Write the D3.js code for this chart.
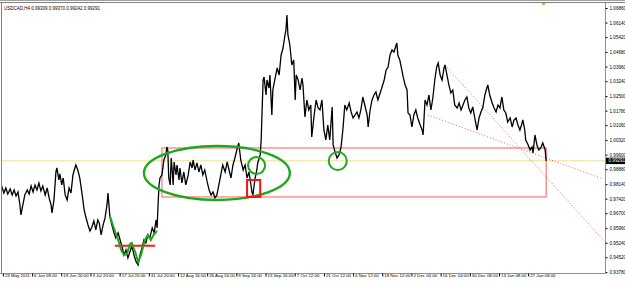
<!DOCTYPE html>
<html><head><meta charset="utf-8">
<script src="https://cdn.jsdelivr.net/npm/d3@7/dist/d3.min.js"></script>
<style>
body{margin:0;background:#fff}
svg{display:block}
text{font-family:"Liberation Sans",Arial,sans-serif}
</style>
</head><body>
<svg id="c" width="625" height="283"></svg>
<script>
// ---- data (H4 bars, index counted from the first bar on screen) ----
const barIdx = [0,4,8,12,16,21,25,29,33,37,41,43,47,51,56,60,64,68,72,76,80,84,88,93,97,101,105,107,111,115,117,121,123,127,130,134,138,142,146,150,154,156,160,164,169,173,177,181,185,189,193,197,201,204,208,212,216,220,222,224,226,230,234,238,243,247,251,255,259,263,267,271,276,280,284,288,292,296,300,304,308,313,317,321,323,325,327,329,333,337,341,343,345,347,350,352,354,356,358,362,364,368,370,374,378,382,387,391,395,397,401,405,409,413,417,421,426,430,434,438,442,446,450,454,458,463,467,471,475,479,483,487,491,495,500,504,508,512,516,518,520,524,528,530,535,537,539,541,543,547,549,553,555,559,561,565,570,574,578,582,586,588,590,592,594,596,598,600,604,607,609,613,617,621,623,627,631,635,639,641,646,650,654,658,662,666,670,674,678,683,685,689,693,697,701,705,709,713,718,722,726,730,734,738,742,746,750,755,757,761,765,769,773,777,781,785,790,794,798,802,806,810,814,816,818,822,827,829,833,837,839,843,847,851,855,859,864,868,870,874,878,882,886,890,894,898,901,905,909,913,915,919,923,927,931,935,940,944,948,952,956,960,964,968,972,977,981,985,989,993,997,1001,1003,1007,1012,1016,1020,1024,1028,1032,1036,1040,1044,1049,1053,1057,1061,1065,1069,1073,1075,1079,1081,1086,1090,1094,1096,1100,1104,1108,1112,1116,1121,1123];
const price = [0.97851,0.98000,0.97703,0.97950,0.97653,0.97901,0.97604,0.97851,0.97554,0.97752,0.97109,0.96614,0.97109,0.97604,0.97851,0.97653,0.98049,0.97752,0.98099,0.97851,0.98198,0.97802,0.98049,0.97604,0.97950,0.97455,0.97109,0.96712,0.97356,0.98742,0.98940,0.98346,0.98643,0.98099,0.98445,0.97604,0.97356,0.97950,0.97703,0.98594,0.98940,0.99089,0.98841,0.98445,0.97604,0.96861,0.96465,0.96119,0.95822,0.96020,0.96317,0.95871,0.96366,0.96218,0.95624,0.96119,0.96465,0.97109,0.97703,0.97109,0.96515,0.96119,0.95772,0.95475,0.95723,0.95376,0.95030,0.94634,0.94881,0.94485,0.94782,0.95079,0.94584,0.94287,0.94139,0.94634,0.94980,0.95376,0.95228,0.95624,0.95475,0.95970,0.95723,0.96366,0.95970,0.97109,0.98099,0.98445,0.98594,0.99336,0.99584,0.99980,0.99831,0.98445,0.98099,0.99435,0.98841,0.98099,0.99237,0.98594,0.99089,0.98346,0.98940,0.98198,0.98742,0.98099,0.98594,0.99237,0.98940,0.99336,0.98841,0.99188,0.98742,0.99089,0.98594,0.98841,0.98247,0.97851,0.97604,0.97752,0.97455,0.97604,0.98099,0.98594,0.99089,0.98742,0.99237,0.98841,0.98445,0.99089,0.99435,0.99831,1.00178,0.99336,0.98841,0.99089,0.98445,0.98742,0.98099,0.97752,0.97604,0.98346,0.98841,0.99188,0.99584,1.00326,1.01811,1.03296,1.03445,1.02554,1.03296,1.02900,1.03544,1.01563,1.02801,1.03296,1.03890,1.03544,1.04534,1.04880,1.05524,1.05771,1.06514,1.05524,1.05276,1.05029,1.04534,1.04039,1.04286,1.02306,1.03544,1.03296,1.02801,1.03395,1.03049,1.01464,1.02306,1.01811,1.02058,1.00475,1.01563,1.02306,1.01910,1.01811,1.02306,1.00821,1.00326,1.01069,1.00326,1.01959,1.00079,0.99732,0.99435,0.99584,0.99930,1.00821,1.02058,1.01811,1.02157,1.01712,1.01415,1.01563,1.01712,1.01415,1.01811,1.02455,1.02058,1.01563,1.00970,1.01811,1.02306,1.02554,1.02702,1.02306,1.02603,1.02900,1.03296,1.03791,1.03940,1.04534,1.04781,1.04682,1.04979,1.05128,1.04534,1.04286,1.03692,1.03445,1.03049,1.02801,1.01662,1.01563,1.00970,1.01563,1.01811,1.01415,1.01069,1.00821,1.00574,1.02306,1.02058,1.02554,1.01811,1.02405,1.03296,1.03940,1.04138,1.03544,1.03296,1.03890,1.04039,1.03544,1.03049,1.02653,1.02801,1.02058,1.01910,1.02157,1.01811,1.02058,1.02306,1.02455,1.01910,1.01662,1.01959,1.01316,1.00821,1.01415,1.01712,1.01959,1.02554,1.02900,1.03049,1.02554,1.02157,1.01910,1.01712,1.02058,1.01910,1.02455,1.01811,1.01662,1.01217,1.01415,1.00970,1.01316,1.01415,1.01069,1.00821,1.01118,1.01316,1.00821,1.00326,1.00079,0.99831,0.99980,0.99683,1.00574,1.00079,0.99831,0.99930,1.00178,0.99831,0.99287];

const yTickValues = [1.06860,1.06140,1.05420,1.04680,1.03960,1.03240,1.02500,1.01780,1.01060,1.00320,0.99600,0.98880,0.98140,0.97420,0.96700,0.95960,0.95240,0.94520,0.93780];
const xTickBars = [6,66,126,186,246,306,366,426,486,546,606,666,726,786,846,906,966,1026,1086];
const xTickLabels = ["23 May 2011","6 Jun 08:00","19 Jun 20:00","3 Jul 20:00","17 Jul 20:00","31 Jul 20:00","12 Aug 16:00","26 Aug 16:00","9 Sep 16:00","23 Sep 16:00","7 Oct 12:00","21 Oct 12:00","4 Nov 12:00","18 Nov 12:00","2 Dec 04:00","16 Dec 04:00","30 Dec 08:00","13 Jan 08:00","27 Jan 08:00"];
const titleText = "USDCAD,H4  0.99309 0.99370 0.99242 0.99291";
const bidPrice = 0.99291;
const barCount = 1244;
const priceMin = 0.93780, priceMax = 1.06860;

// drawn objects, in bar / price units
const rangeBarsX = [333,1123], rangePricesY = [0.99930,0.97505];
const ellipseBars = [296,596], ellipsePrices = [1.00029,0.97356];
const circle1Bars = [510,545], circle1Prices = [0.99484,0.98643];
const circle2Bars = [676,713], circle2Prices = [0.99732,0.98841];
const squareBars = [508,535], squarePrices = [0.98346,0.97505];
const supportBars = [236,319], supportPrice = 0.95095;
const wBars = [226,234,243,249,255,261,267,271,278,284,290,298,304,310,317,323];
const wPrices = [0.96564,0.95970,0.95376,0.94881,0.94634,0.94683,0.95178,0.95228,0.94782,0.94287,0.94634,0.95376,0.95624,0.95376,0.95673,0.95822];
const trend1Bars = [915,1240], trend1Prices = [1.04039,0.95376];
const trend2Bars = [880,1240], trend2Prices = [1.01563,0.98396];

// ---- drawing ----
const W = 625, H = 283, plotR = 605, plotT = 3, plotB = 273;
const svg = d3.select("#c");
svg.append("rect").attr("width",W).attr("height",H).attr("fill","#fff");

const x = d3.scaleLinear().domain([0,barCount]).range([0,plotR]);
const y = d3.scaleLinear().domain([priceMin,priceMax]).range([272.2,8]);

svg.append("clipPath").attr("id","clip").append("rect")
  .attr("x",1).attr("y",plotT).attr("width",plotR-1).attr("height",plotB-plotT);
const g = svg.append("g").attr("clip-path","url(#clip)");

// bid line
g.append("line").attr("x1",0).attr("x2",plotR)
  .attr("y1",y(bidPrice)).attr("y2",y(bidPrice))
  .attr("stroke","#f1dc84").attr("stroke-width",1);

// range rectangle
g.append("rect")
  .attr("x",x(rangeBarsX[0])).attr("y",y(rangePricesY[0]))
  .attr("width",x(rangeBarsX[1])-x(rangeBarsX[0]))
  .attr("height",y(rangePricesY[1])-y(rangePricesY[0]))
  .attr("fill","none").attr("stroke","#ff5a5a").attr("stroke-width",1);

// trend lines (dotted)
[[trend1Bars,trend1Prices],[trend2Bars,trend2Prices]].forEach(([b,p])=>{
  g.append("line").attr("x1",x(b[0])).attr("y1",y(p[0])).attr("x2",x(b[1])).attr("y2",y(p[1]))
   .attr("stroke","#e46a6a").attr("stroke-width",1).attr("stroke-dasharray","1,2");
});

// price series
const pts = barIdx.map((b,i)=>[b,price[i]]);
g.append("path").datum(pts)
  .attr("d",d3.line().x(d=>x(d[0])).y(d=>y(d[1])))
  .attr("fill","none").attr("stroke","#000").attr("stroke-width",1.3).attr("stroke-linejoin","miter");

// green ellipse
function ell(bs,ps,sw){
  const cx=(x(bs[0])+x(bs[1]))/2, cy=(y(ps[0])+y(ps[1]))/2;
  g.append("ellipse").attr("cx",cx).attr("cy",cy)
    .attr("rx",Math.abs(x(bs[1])-x(bs[0]))/2).attr("ry",Math.abs(y(ps[1])-y(ps[0]))/2)
    .attr("fill","none").attr("stroke","#1ea81e").attr("stroke-width",sw);
}
ell(ellipseBars,ellipsePrices,2.4);
ell(circle1Bars,circle1Prices,2);
ell(circle2Bars,circle2Prices,2);

// red square
g.append("rect").attr("x",x(squareBars[0])).attr("y",y(squarePrices[0]))
  .attr("width",x(squareBars[1])-x(squareBars[0])).attr("height",y(squarePrices[1])-y(squarePrices[0]))
  .attr("fill","none").attr("stroke","#ff1010").attr("stroke-width",2);

// support line
g.append("line").attr("x1",x(supportBars[0])).attr("x2",x(supportBars[1]))
  .attr("y1",y(supportPrice)).attr("y2",y(supportPrice))
  .attr("stroke","#ff1a1a").attr("stroke-width",2);

// W pattern
g.append("path").datum(wBars.map((b,i)=>[b,wPrices[i]]))
  .attr("d",d3.line().x(d=>x(d[0])).y(d=>y(d[1])))
  .attr("fill","none").attr("stroke","#1ea81e").attr("stroke-width",2);

// frame
svg.append("line").attr("x1",0).attr("x2",W).attr("y1",0.5).attr("y2",0.5).attr("stroke","#a0a0a0");
svg.append("line").attr("x1",0).attr("x2",W).attr("y1",2.5).attr("y2",2.5).attr("stroke","#808080");
svg.append("line").attr("x1",1.5).attr("x2",1.5).attr("y1",2).attr("y2",plotB).attr("stroke","#808080");

// y axis
const ya = svg.append("g").attr("transform",`translate(${plotR+0.5},0)`)
  .call(d3.axisRight(y).tickValues(yTickValues).tickSize(2).tickPadding(2).tickFormat(d3.format(".5f")));
ya.select(".domain").attr("stroke","#909090").attr("d",`M0,${plotT}V${plotB}`);
ya.selectAll("text").attr("font-size",4.6).attr("fill","#000").attr("font-family","Liberation Sans, Arial, sans-serif");

// x axis
const xa = svg.append("g").attr("transform",`translate(0,${plotB+0.5})`)
  .call(d3.axisBottom(x).tickValues(xTickBars).tickSize(3).tickPadding(1)
     .tickFormat((d,i)=>xTickLabels[i]));
xa.select(".domain").attr("stroke","#909090").attr("d",`M0,0H${plotR+0.5}`);
xa.selectAll("text").attr("font-size",4.4).attr("text-anchor","start").attr("dx",1.5).attr("dy","-0.1em")
  .attr("font-family","Liberation Sans, Arial, sans-serif").attr("fill","#000");

// bid price label
const bl = svg.append("g").attr("transform",`translate(${plotR+1},${y(bidPrice)})`);
bl.append("rect").attr("x",0).attr("y",-3.2).attr("width",19).attr("height",6.4).attr("fill","#000");
bl.append("text").attr("x",2.5).attr("y",1.6).attr("font-size",4.6).attr("fill","#fff").text(d3.format(".5f")(bidPrice));

// title
svg.append("text").attr("x",4).attr("y",9.5).attr("font-size",4.5).attr("fill","#000").text(titleText);

// chart shift marker
svg.append("path").attr("d",`M${x(1118)-2.5},3 L${x(1118)+2.5},3 L${x(1118)},6 Z`).attr("fill","#e8b820");
</script>
</body></html>
